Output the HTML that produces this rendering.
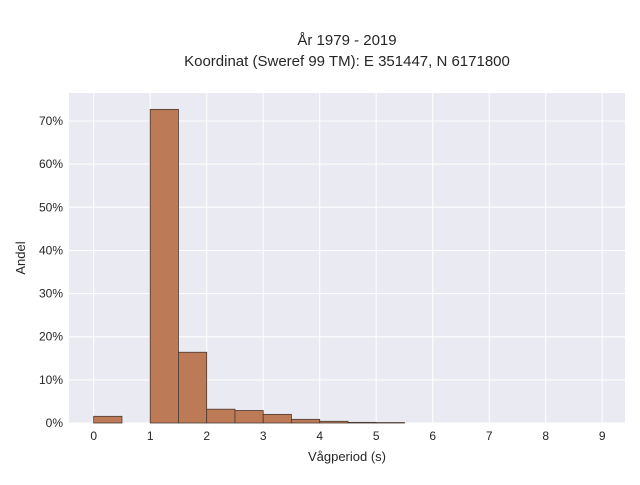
<!DOCTYPE html>
<html><head><meta charset="utf-8"><style>
body{margin:0;background:#fff;}
text{font-family:"Liberation Sans",sans-serif;fill:#262626;}
</style></head><body>
<svg width="640" height="480" xmlns="http://www.w3.org/2000/svg">
<rect x="69" y="93" width="556" height="330" fill="#eaeaf2"/>
<g id="grid"></g>
<g id="bars"></g>
<g id="ticks"></g>
<text x="347" y="45" text-anchor="middle" font-size="15">År 1979 - 2019</text>
<text x="347" y="66" text-anchor="middle" font-size="15">Koordinat (Sweref 99 TM): E 351447, N 6171800</text>
<text x="347" y="461" text-anchor="middle" font-size="13">Vågperiod (s)</text>
<text transform="translate(25,258) rotate(-90)" text-anchor="middle" font-size="13">Andel</text>
</svg>
<script>
const binStarts=[0,0.5,1,1.5,2,2.5,3,3.5,4,4.5,5];
const shares=[1.55,0,72.7,16.4,3.2,2.9,2.0,0.85,0.4,0.15,0.1];
const xTicks=[0,1,2,3,4,5,6,7,8,9];
const yTicks=[0,10,20,30,40,50,60,70];
const binWidth=0.5;
const NS="http://www.w3.org/2000/svg";
const X=v=>93.7+v*56.5;
const Y=v=>423-v*4.314;
const grid=document.getElementById('grid'),bars=document.getElementById('bars'),ticks=document.getElementById('ticks');
function mk(tag,attrs,parent){const e=document.createElementNS(NS,tag);for(const k in attrs)e.setAttribute(k,attrs[k]);parent.appendChild(e);return e;}
xTicks.forEach(t=>{
  const l=mk('line',{x1:X(t),x2:X(t),y1:93,y2:423,stroke:'#fff','stroke-width':1},grid);
  
  
  const tx=mk('text',{x:X(t),y:440,'text-anchor':'middle','font-size':12},ticks);
  tx.textContent=t;
  
  
});
yTicks.forEach(t=>{
  const l=mk('line',{x1:69,x2:625,y1:Y(t),y2:Y(t),stroke:'#fff','stroke-width':1},grid);
  
  
  const tx=mk('text',{x:63,y:Y(t)+4,'text-anchor':'end','font-size':12},ticks);
  tx.textContent=t+'%';
  
  
});
binStarts.forEach((b,i)=>{
  if(shares[i]<=0)return;
  const r=mk('rect',{x:X(b),y:Y(shares[i]),width:X(b+binWidth)-X(b),height:423-Y(shares[i]),fill:'#bd7a56',stroke:'#4a3a32','stroke-width':0.8},bars);
  
  
});
</script>
</body></html>
